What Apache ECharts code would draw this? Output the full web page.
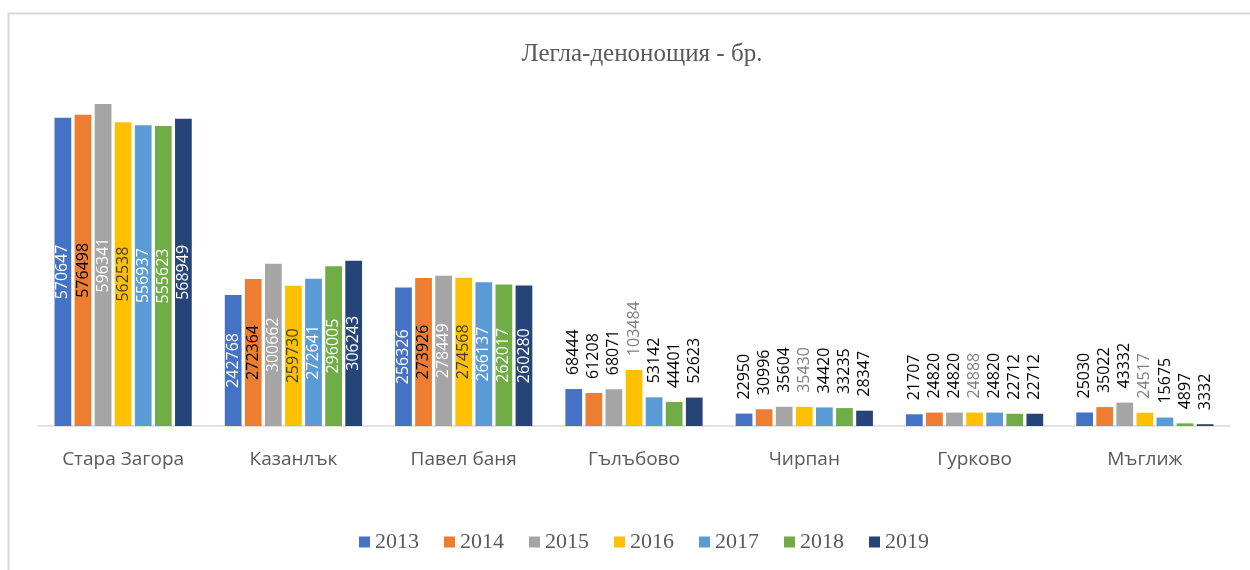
<!DOCTYPE html>
<html>
<head>
<meta charset="utf-8">
<script src="https://cdn.jsdelivr.net/npm/echarts@6/dist/echarts.min.js"></script>
<style>
  html, body { margin: 0; padding: 0; background: #fff; }
  #chart { width: 1250px; height: 570px; }
</style>
</head>
<body>
<div id="chart"></div>
<script>
// Bed-nights by municipality, 2013–2019
const categories = ['Стара Загора', 'Казанлък', 'Павел баня', 'Гълъбово', 'Чирпан', 'Гурково', 'Мъглиж'];
const years = ['2013', '2014', '2015', '2016', '2017', '2018', '2019'];

const v2013 = [570647, 242768, 256326, 68444, 22950, 21707, 25030];
const v2014 = [576498, 272364, 273926, 61208, 30996, 24820, 35022];
const v2015 = [596341, 300662, 278449, 68071, 35604, 24820, 43332];
const v2016 = [562538, 259730, 274568, 103484, 35430, 24888, 24517];
const v2017 = [556937, 272641, 266137, 53142, 34420, 24820, 15675];
const v2018 = [555623, 296005, 262017, 44401, 33235, 22712, 4897];
const v2019 = [568949, 306243, 260280, 52623, 28347, 22712, 3332];

const seriesValues = [v2013, v2014, v2015, v2016, v2017, v2018, v2019];
const colors = ['#4472C4', '#ED7D31', '#A5A5A5', '#FFC000', '#5B9BD5', '#70AD47', '#264478'];
const insideLabelColors = ['#ffffff', '#000000', '#ffffff', '#404040', '#ffffff', '#ffffff', '#ffffff'];
const outsideLabelColors = ['#000000', '#000000', '#000000', '#7f7f7f', '#000000', '#000000', '#000000'];

// tall bars carry their value inside, short ones above the bar
const INSIDE_THRESHOLD = 150000;

const series = years.map((y, i) => ({
  name: y,
  type: 'bar',
  barGap: '20%',
  barCategoryGap: '19.4%',
  itemStyle: { color: colors[i] },
  data: seriesValues[i].map(v => {
    const inside = v > INSIDE_THRESHOLD;
    return {
      value: v,
      label: inside ? {
        show: true,
        position: 'inside',
        rotate: 90,
        align: 'center',
        verticalAlign: 'middle',
        color: insideLabelColors[i],
        fontFamily: 'Open Sans',
        fontSize: 16
      } : {
        show: true,
        position: 'top',
        rotate: 90,
        align: 'left',
        verticalAlign: 'middle',
        distance: 14,
        color: outsideLabelColors[i],
        fontFamily: 'Open Sans',
        fontSize: 16
      }
    };
  })
}));

const chart = echarts.init(document.getElementById('chart'));
chart.setOption({
  animation: false,
  backgroundColor: '#ffffff',
  color: colors,
  title: {
    text: 'Легла-денонощия - бр.',
    left: 637,
    top: 37,
    textAlign: 'center',
    textStyle: {
      fontFamily: 'Liberation Serif',
      fontWeight: 'normal',
      fontSize: 25,
      color: '#595959'
    }
  },
  legend: {
    data: years,
    left: 354,
    top: 526,
    icon: 'rect',
    itemWidth: 11,
    itemHeight: 11,
    itemGap: 25,
    textStyle: {
      fontFamily: 'Liberation Serif',
      fontSize: 22,
      color: '#595959'
    }
  },
  grid: { left: 38, right: 20, top: 102, bottom: 144, containLabel: false },
  xAxis: {
    type: 'category',
    data: categories,
    axisLine: { lineStyle: { color: '#d9d9d9', width: 1.5 } },
    axisTick: { show: false },
    axisLabel: {
      fontFamily: 'Open Sans',
      fontSize: 19,
      color: '#595959',
      margin: 24
    }
  },
  yAxis: {
    type: 'value',
    min: 0,
    max: 600000,
    show: false,
    splitLine: { show: false }
  },
  graphic: [{
    type: 'rect',
    shape: { x: 8.5, y: 13.5, width: 1400, height: 700 },
    style: { fill: null, stroke: '#d9d9d9', lineWidth: 2 },
    silent: true
  }],
  series: series
});
</script>
</body>
</html>
